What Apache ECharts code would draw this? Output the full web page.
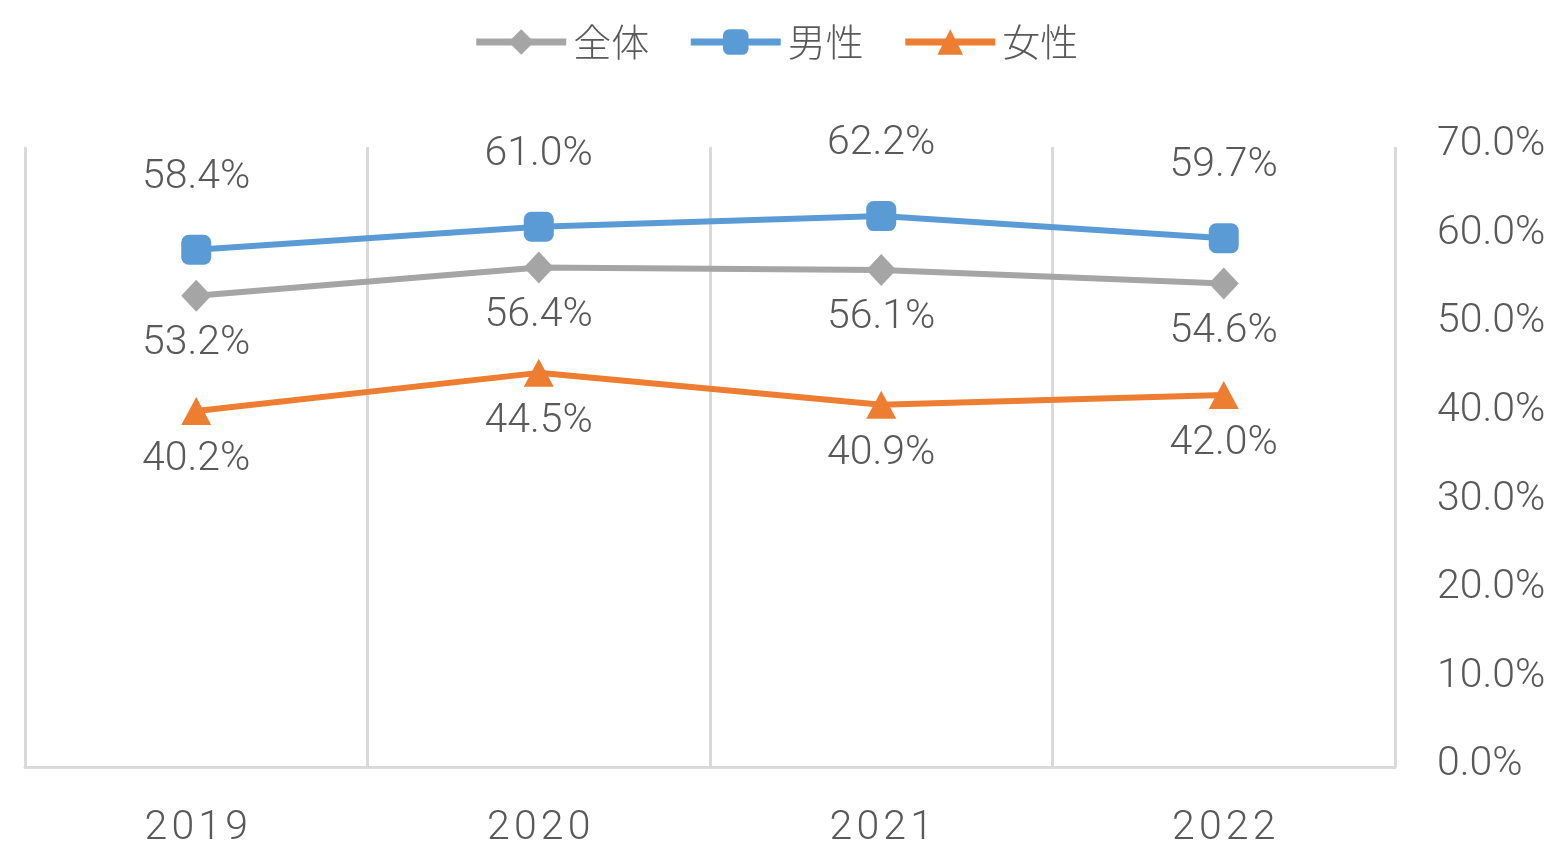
<!DOCTYPE html>
<html><head><meta charset="utf-8">
<script src="https://cdn.jsdelivr.net/npm/echarts@6/dist/echarts.min.js"></script>
<style>html,body{margin:0;padding:0;background:#fff}#c{width:1551px;height:848px}</style>
</head><body><div id="c"></div>
<script>
const categories = ['2019', '2020', '2021', '2022'];
const seriesNames = ['全体', '男性', '女性'];
const totalValues = [53.2, 56.4, 56.1, 54.6];
const maleValues = [58.4, 61.0, 62.2, 59.7];
const femaleValues = [40.2, 44.5, 40.9, 42.0];
const yTicks = [0, 10, 20, 30, 40, 50, 60, 70];

const numFont = 'Roboto, "Liberation Sans", sans-serif';
const txt = '#595959';
const chart = echarts.init(document.getElementById('c'));
function lab(pos, dist) {
  return { show: true, position: pos, distance: dist, color: txt, fontFamily: numFont, fontWeight: 300, fontSize: 41, lineHeight: 48,
    formatter: p => p.value.toFixed(1) + '%' };
}
chart.setOption({
  animation: false,
  legend: {
    top: 18, left: 'center', itemWidth: 90, itemHeight: 32, itemGap: 38,
    lineStyle: { width: 7 },
    textStyle: { color: txt, fontFamily: '"Noto Sans CJK JP", sans-serif', fontSize: 38, fontWeight: 300, padding: [0, 0, 0, 2] },
    data: seriesNames
  },
  grid: { left: 25, right: 156, top: 147, bottom: 81, containLabel: false, outerBoundsMode: 'none' },
  xAxis: {
    type: 'category', data: categories, boundaryGap: true,
    axisLine: { lineStyle: { color: '#D9D9D9', width: 3 } },
    axisTick: { show: false },
    splitLine: { show: true, lineStyle: { color: '#D9D9D9', width: 3 } },
    axisLabel: { color: txt, fontFamily: numFont, fontWeight: 300, fontSize: 41, margin: 41,
      formatter: v => v.split('').join('\u200A') }
  },
  yAxis: {
    type: 'value', position: 'right', min: 0, max: 70, interval: 10,
    axisLine: { show: false }, axisTick: { show: false }, splitLine: { show: false },
    axisLabel: { color: txt, fontFamily: numFont, fontWeight: 300, fontSize: 41, margin: 42, align: 'left',
      verticalAlign: 'bottom', lineHeight: 4,
      formatter: v => yTicks.includes(v) ? v.toFixed(1) + '%' : '' }
  },
  series: [
    { name: '全体', type: 'line', data: totalValues, symbol: 'diamond', symbolSize: [30, 32],
      lineStyle: { color: '#A5A5A5', width: 6 }, itemStyle: { color: '#A5A5A5' }, label: lab('bottom', 8) },
    { name: '男性', type: 'line', data: maleValues, symbol: 'roundRect', symbolSize: 30,
      lineStyle: { color: '#5B9BD5', width: 6 }, itemStyle: { color: '#5B9BD5' }, label: lab('top', 33) },
    { name: '女性', type: 'line', data: femaleValues, symbol: 'triangle', symbolSize: [30, 28],
      lineStyle: { color: '#ED7D31', width: 6 }, itemStyle: { color: '#ED7D31' }, label: lab('bottom', 11) }
  ]
});
</script></body></html>
